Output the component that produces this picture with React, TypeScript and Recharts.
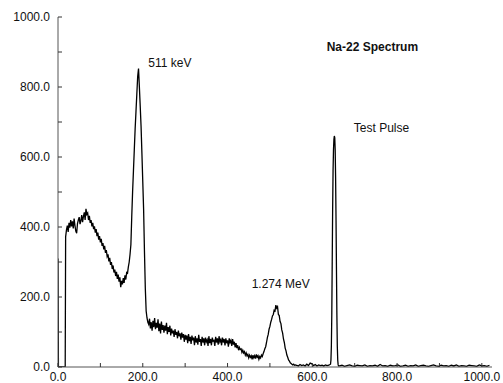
import { LineChart, Line, XAxis, YAxis, ReferenceDot } from 'recharts';

// Na-22 spectrum, counts per channel
// each segment: first channel, channel step, counts
const lowEdge = { start: 0, step: 1, counts: [310, 0] };
const gap = { start: 17, step: 1, counts: [0] };
const compton = {
  start: 18,
  step: 2,
  counts: [
    372, 392, 404, 386, 412, 398, 420, 402, 416, 396, 424, 404, 388, 382, 410, 420, 428, 408, 418, 434,
    414, 430, 442, 420, 452, 436, 440, 420, 432, 412, 420, 402, 412, 394, 402, 384, 394, 374, 384, 364,
    374, 356, 366, 346, 354, 336, 346, 326, 334, 316, 322, 302, 312, 292, 300, 280, 290, 270, 278, 260,
    272, 252, 264, 244, 256, 228, 246, 236, 254, 240, 262, 250, 270, 268, 286, 300, 322,
  ],
};
const annihilationPeak = {
  start: 172,
  step: 2,
  counts: [350, 429, 500, 560, 620, 680, 730, 780, 830, 853, 800, 745, 687, 610, 530, 450, 330, 225, 160, 140, 128],
};
const continuum = {
  start: 214,
  step: 2,
  counts: [
    122, 138, 110, 128, 104, 132, 114, 140, 108, 126, 112, 136, 102, 124, 96, 130, 106, 120, 98, 118,
    104, 126, 94, 114, 100, 118, 90, 110, 96, 104, 86, 108, 92, 100, 82, 104, 88, 96, 78, 98,
    84, 94, 72, 92, 78, 90, 68, 94, 74, 86, 66, 90, 76, 84, 62, 88, 70, 82, 64, 92,
    72, 80, 60, 86, 70, 82, 62, 84, 72, 78, 60, 88, 68, 80, 62, 84, 74, 76, 60, 86,
    70, 82, 64, 88, 72, 78, 62, 84, 70, 80, 62, 82, 68, 76, 58, 82, 70, 76, 60, 80,
    64, 72, 56, 68, 54, 62, 48, 56, 50, 52, 42, 48, 40, 44, 34, 40, 32, 36, 26, 34,
    28, 32, 22, 34, 26, 32, 24, 36, 28, 32, 22, 30, 26, 34, 30, 38, 44, 52,
  ],
};
const gammaPeak = {
  start: 490,
  step: 2,
  counts: [
    58, 70, 84, 93, 108, 116, 128, 136, 146, 150, 162, 160, 177, 168, 172, 150, 147, 130, 124, 106,
    97, 80, 70, 54, 46, 34, 28, 20, 17, 12, 10, 8, 6, 8, 5, 6,
  ],
};
const baseline = {
  start: 563,
  step: 4,
  counts: [5, 3, 7, 4, 6, 3, 8, 4, 11, 9, 4, 7, 3, 6, 4, 5, 3, 6, 4, 5],
};
const testPulse = {
  start: 643,
  step: 1,
  counts: [8, 20, 60, 150, 300, 450, 560, 620, 650, 660, 655, 620, 540, 420, 280, 150, 60, 20, 6, 3],
};
const tail = {
  start: 664,
  step: 6,
  counts: [
    3, 5, 2, 4, 6, 3, 2, 5, 4, 3, 6, 2, 4, 3, 5, 2, 7, 3, 4, 2, 5, 3, 4, 6, 2, 3, 5, 2, 4, 3,
    6, 2, 4, 5, 3, 2, 4, 6, 3, 2, 5, 3, 4, 2, 5, 3, 6, 2, 4, 3, 2, 5, 4, 3, 2, 6, 3, 4, 2, 5,
  ],
};

const segments = [lowEdge, gap, compton, annihilationPeak, continuum, gammaPeak, baseline, testPulse, tail];

const xTicks = [0, 100, 200, 300, 400, 500, 600, 700, 800, 900, 1000];
const yTicks = [0, 100, 200, 300, 400, 500, 600, 700, 800, 900, 1000];

const annotations = [
  { text: '511 keV', ch: 213, value: 869, bold: false },
  { text: 'Na-22 Spectrum', ch: 634, value: 915, bold: true },
  { text: 'Test Pulse', ch: 698, value: 684, bold: false },
  { text: '1.274 MeV', ch: 457, value: 239, bold: false },
];

const data = segments.flatMap((s) => s.counts.map((c, i) => ({ ch: s.start + i * s.step, counts: c })));

const TICK = 4;
const tickColor = '#333';
const axisColor = '#555';
const labelOf = (v: number) => (v % 200 === 0 ? v.toFixed(1) : '');

// inward tick marks drawn from the position recharts hands to each tick
const BottomTick = ({ x, y, payload }: any) => (
  <g>
    <line x1={x} x2={x} y1={y - 5} y2={y - 5 - TICK} stroke={tickColor} />
    <text x={x} y={y} dy="0.71em" textAnchor="middle" fontSize={12} fill="#111">
      {labelOf(payload.value)}
    </text>
  </g>
);
const LeftTick = ({ x, y, payload }: any) => (
  <g>
    <line x1={x + 8} x2={x + 8 + TICK} y1={y} y2={y} stroke={tickColor} />
    <text x={x} y={y} dy="0.355em" textAnchor="end" fontSize={12} fill="#111">
      {labelOf(payload.value)}
    </text>
  </g>
);
const TopTick = ({ x, y }: any) => <line x1={x} x2={x} y1={y} y2={y + TICK} stroke={tickColor} />;
const RightTick = ({ x, y }: any) => <line x1={x} x2={x - TICK} y1={y} y2={y} stroke={tickColor} />;

export default function App() {
  return (
    <div
      style={{
        position: 'absolute',
        left: 0,
        top: 0,
        width: 503,
        height: 383,
        background: '#fff',
        fontFamily: '"Liberation Sans", Arial, sans-serif',
      }}
    >
      <LineChart width={503} height={383} data={data} margin={{ top: 17, right: 11, bottom: 0, left: 0 }}>
        <XAxis
          dataKey="ch"
          type="number"
          domain={[0, 1024]}
          allowDataOverflow
          ticks={xTicks}
          tick={<BottomTick />}
          tickSize={0}
          tickMargin={5}
          tickLine={false}
          height={16}
          interval={0}
          stroke={axisColor}
        />
        <XAxis
          xAxisId="top"
          orientation="top"
          type="number"
          domain={[0, 1024]}
          allowDataOverflow
          ticks={xTicks}
          tick={<TopTick />}
          tickSize={0}
          tickMargin={0}
          tickLine={false}
          height={0}
          interval={0}
          stroke={axisColor}
        />
        <YAxis
          type="number"
          domain={[0, 1000]}
          allowDataOverflow
          ticks={yTicks}
          tick={<LeftTick />}
          tickSize={0}
          tickMargin={8}
          tickLine={false}
          width={58}
          interval={0}
          stroke={axisColor}
        />
        <YAxis
          yAxisId="right"
          orientation="right"
          type="number"
          domain={[0, 1000]}
          allowDataOverflow
          ticks={yTicks}
          tick={<RightTick />}
          tickSize={0}
          tickMargin={0}
          tickLine={false}
          width={0}
          interval={0}
          stroke={axisColor}
        />
        <Line
          type="linear"
          dataKey="counts"
          stroke="#000"
          strokeWidth={1.3}
          dot={false}
          isAnimationActive={false}
        />
        {annotations.map((a) => (
          <ReferenceDot
            key={a.text}
            x={a.ch}
            y={a.value}
            r={0}
            fill="none"
            stroke="none"
            label={{
              value: a.text,
              position: 'right',
              offset: 0,
              fontSize: 12,
              fill: '#111',
              fontWeight: a.bold ? 'bold' : 'normal',
            }}
          />
        ))}
      </LineChart>
    </div>
  );
}
